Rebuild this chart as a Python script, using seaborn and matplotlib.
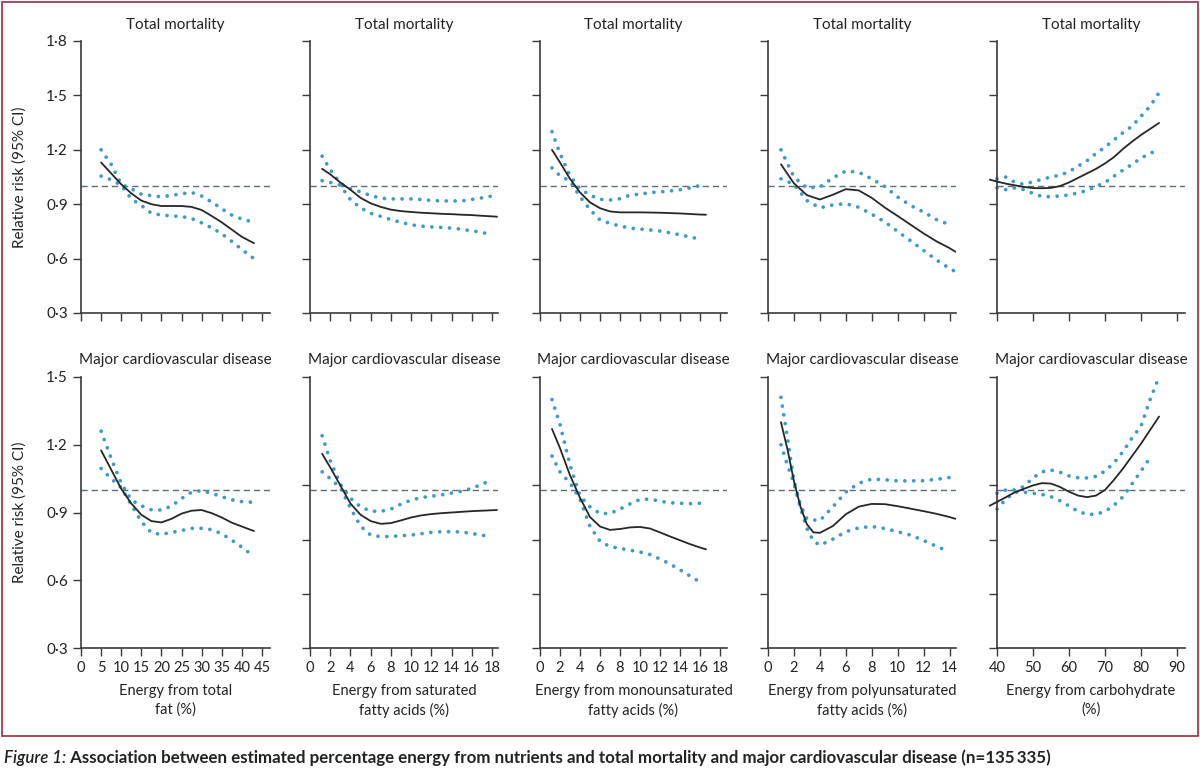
import matplotlib
matplotlib.use('Agg')
import matplotlib.pyplot as plt
from matplotlib.patches import Rectangle
import seaborn as sns
import numpy as np

nan = np.nan

# ---------------- data ----------------
fat_x = [5, 7.5, 10, 12.5, 15, 17.5, 20, 22.5, 25, 27.5, 30, 32.5, 35, 37.5, 40, 43]
fat_mort_mid = [1.13, 1.07, 1.01, 0.96, 0.92, 0.90, 0.89, 0.89, 0.89, 0.885, 0.868, 0.835, 0.80, 0.76, 0.72, 0.685]
fat_mort_hi = [1.20, 1.12, 1.01, 0.985, 0.955, 0.947, 0.941, 0.949, 0.957, 0.965, 0.945, 0.912, 0.875, 0.84, 0.818, 0.80]
fat_mort_lo = [1.055, 1.035, 1.005, 0.93, 0.893, 0.85, 0.84, 0.836, 0.832, 0.821, 0.797, 0.77, 0.737, 0.695, 0.65, 0.60]
fat_cvd_mid = [1.175, 1.09, 1.005, 0.94, 0.89, 0.862, 0.856, 0.872, 0.895, 0.908, 0.911, 0.897, 0.878, 0.855, 0.838, 0.818]
fat_cvd_hi = [1.26, 1.14, 1.03, 0.955, 0.93, 0.912, 0.911, 0.928, 0.962, 0.99, 0.997, 0.985, 0.97, 0.956, 0.948, 0.945]
fat_cvd_lo = [1.095, 1.05, 1.01, 0.934, 0.86, 0.81, 0.803, 0.812, 0.82, 0.83, 0.83, 0.824, 0.806, 0.777, 0.747, 0.705]

sat_x = [1.2, 2, 3, 4, 5, 6, 7, 8, 9, 10, 11, 12, 13, 14, 15, 16, 17, 18, 18.5]
sat_mort_mid = [1.095, 1.065, 1.02, 0.98, 0.935, 0.905, 0.885, 0.87, 0.862, 0.857, 0.853, 0.85, 0.847, 0.845, 0.842, 0.84, 0.836, 0.833, 0.831]
sat_mort_hi = [1.165, 1.09, 1.015, 0.985, 0.968, 0.948, 0.933, 0.929, 0.929, 0.929, 0.926, 0.921, 0.918, 0.918, 0.918, 0.926, 0.935, 0.945, nan]
sat_mort_lo = [1.03, 1.02, 1.005, 0.925, 0.88, 0.85, 0.833, 0.815, 0.80, 0.786, 0.779, 0.775, 0.772, 0.768, 0.762, 0.753, 0.745, 0.73, nan]
sat_cvd_mid = [1.16, 1.10, 1.02, 0.94, 0.89, 0.862, 0.85, 0.853, 0.865, 0.878, 0.887, 0.893, 0.897, 0.90, 0.903, 0.906, 0.908, 0.91, 0.911]
sat_cvd_hi = [1.24, 1.13, 1.025, 0.963, 0.925, 0.906, 0.905, 0.915, 0.937, 0.955, 0.966, 0.972, 0.978, 0.986, 0.994, 1.007, 1.025, 1.044, nan]
sat_cvd_lo = [1.08, 1.05, 1.01, 0.92, 0.84, 0.80, 0.793, 0.794, 0.797, 0.80, 0.806, 0.812, 0.815, 0.815, 0.814, 0.807, 0.80, 0.79, nan]

mufa_x = [1.2, 2, 3, 4, 5, 6, 7, 8, 9, 10, 11, 12, 13, 14, 15, 16, 16.6]
mufa_mort_mid = [1.20, 1.13, 1.04, 0.965, 0.91, 0.878, 0.86, 0.855, 0.855, 0.855, 0.854, 0.853, 0.851, 0.849, 0.846, 0.843, 0.842]
mufa_mort_hi = [1.30, 1.18, 1.056, 0.985, 0.95, 0.927, 0.923, 0.93, 0.95, 0.955, 0.964, 0.968, 0.973, 0.98, 0.99, 1.003, nan]
mufa_mort_lo = [1.10, 1.057, 1.028, 0.941, 0.87, 0.813, 0.794, 0.78, 0.768, 0.763, 0.758, 0.752, 0.742, 0.731, 0.719, 0.708, nan]
mufa_cvd_mid = [1.27, 1.185, 1.065, 0.965, 0.88, 0.838, 0.823, 0.827, 0.834, 0.836, 0.829, 0.812, 0.794, 0.777, 0.76, 0.745, 0.737]
mufa_cvd_hi = [1.40, 1.29, 1.11, 0.973, 0.925, 0.895, 0.896, 0.915, 0.938, 0.958, 0.959, 0.95, 0.943, 0.941, 0.939, 0.941, nan]
mufa_cvd_lo = [1.15, 1.08, 1.03, 0.96, 0.838, 0.773, 0.749, 0.741, 0.733, 0.725, 0.714, 0.694, 0.672, 0.646, 0.619, 0.592, nan]

pufa_mort_x = [1, 2, 3, 4, 5, 6, 7, 8, 9, 10, 11, 12, 13, 14, 14.45]
pufa_mort_mid = [1.12, 1.015, 0.95, 0.926, 0.952, 0.983, 0.976, 0.935, 0.882, 0.835, 0.787, 0.739, 0.695, 0.658, 0.638]
pufa_mort_hi = [1.20, 1.05, 0.99, 0.995, 1.045, 1.083, 1.076, 1.04, 0.998, 0.94, 0.893, 0.857, 0.815, 0.787, nan]
pufa_mort_lo = [1.04, 1.01, 0.92, 0.88, 0.896, 0.903, 0.883, 0.845, 0.803, 0.75, 0.698, 0.645, 0.592, 0.546, 0.528]
pufa_cvd_x = [1, 1.5, 2, 2.5, 3, 3.5, 4, 5, 6, 7, 8, 9, 10, 11, 12, 13, 14, 14.45]
pufa_cvd_mid = [1.30, 1.18, 1.04, 0.926, 0.848, 0.812, 0.81, 0.84, 0.892, 0.926, 0.938, 0.937, 0.928, 0.917, 0.906, 0.894, 0.88, 0.872]
pufa_cvd_hi = [1.41, 1.23, 1.04, 0.935, 0.872, 0.867, 0.864, 0.925, 0.99, 1.03, 1.048, 1.045, 1.04, 1.04, 1.041, 1.047, 1.055, nan]
pufa_cvd_lo = [1.20, 1.11, 1.03, 0.92, 0.83, 0.774, 0.755, 0.782, 0.815, 0.832, 0.838, 0.829, 0.815, 0.80, 0.776, 0.75, 0.726, nan]

carb_x = [38, 40, 42.5, 45, 47.5, 50, 52.5, 55, 57.5, 60, 62.5, 65, 67.5, 70, 72.5, 75, 77.5, 80, 82.5, 85]
carb_mort_mid = [1.035, 1.025, 1.013, 1.004, 0.995, 0.989, 0.988, 0.99, 1.0, 1.02, 1.045, 1.07, 1.095, 1.125, 1.16, 1.205, 1.245, 1.282, 1.315, 1.348]
carb_mort_hi = [nan, 1.04, 1.05, 1.02, 1.01, 1.024, 1.037, 1.05, 1.06, 1.079, 1.11, 1.14, 1.18, 1.215, 1.255, 1.295, 1.33, 1.385, 1.44, 1.515]
carb_mort_lo = [nan, 0.99, 0.98, 0.99, 0.98, 0.96, 0.942, 0.941, 0.945, 0.951, 0.963, 0.975, 0.998, 1.02, 1.055, 1.088, 1.12, 1.154, 1.18, 1.203]
carb_cvd_mid = [0.93, 0.947, 0.968, 0.99, 1.005, 1.02, 1.03, 1.028, 1.013, 0.992, 0.975, 0.968, 0.975, 1.0, 1.045, 1.095, 1.15, 1.205, 1.265, 1.325]
carb_cvd_hi = [nan, 0.985, 1.0, 1.0, 1.015, 1.054, 1.08, 1.088, 1.078, 1.062, 1.054, 1.053, 1.06, 1.083, 1.12, 1.17, 1.23, 1.283, 1.40, 1.50]
carb_cvd_lo = [nan, 0.915, 0.96, 0.99, 0.99, 0.985, 0.98, 0.97, 0.952, 0.929, 0.905, 0.892, 0.892, 0.905, 0.932, 0.97, 1.027, 1.084, 1.143, nan]

# axis ticks and text
fat_ticks = [0, 5, 10, 15, 20, 25, 30, 35, 40, 45]
sat_ticks = [0, 2, 4, 6, 8, 10, 12, 14, 16, 18]
mufa_ticks = [0, 2, 4, 6, 8, 10, 12, 14, 16, 18]
pufa_ticks = [0, 2, 4, 6, 8, 10, 12, 14]
carb_ticks = [40, 50, 60, 70, 80, 90]
x_limits = [(0, 47), (0, 18.6), (0, 18.7), (0, 14.5), (40, 92.2)]

mort_yticks = [0.3, 0.6, 0.9, 1.2, 1.5, 1.8]
mort_ylabels = ['0·3', '0·6', '0·9', '1·2', '1·5', '1·8']
cvd_yticks = [0.3, 0.6, 0.9, 1.2, 1.5]
cvd_ylabels = ['0·3', '0·6', '0·9', '1·2', '1·5']
# the inner lower panels of the original carry the upper-row tick spacing
cvd_inner_yticks = [0.3, 0.54, 0.78, 1.02, 1.5]

row_titles = ['Total mortality', 'Major cardiovascular disease']
x_titles = ['Energy from total\nfat (%)',
            'Energy from saturated\nfatty acids (%)',
            'Energy from monounsaturated\nfatty acids (%)',
            'Energy from polyunsaturated\nfatty acids (%)',
            'Energy from carbohydrate\n(%)']
y_title = 'Relative risk (95% CI)'
caption_lead = 'Figure 1:'
caption_rest = (' Association between estimated percentage energy from nutrients and total '
                'mortality and major cardiovascular disease (n=135\u2009335)')

# ---------------- style ----------------
sns.set_theme(style='ticks')
plt.rcParams['font.family'] = ['Lato', 'DejaVu Sans']

BAND_COLOUR = '#3b9bc3'
LINE_COLOUR = '#262626'
REF_COLOUR = '#5f6e76'
AXIS_COLOUR = '#3a3a3a'
FRAME_COLOUR = '#a23c50'
TEXT_COLOUR = '#222222'

W, H = 1200, 772
fig = plt.figure(figsize=(W / 100, H / 100), dpi=100)
fig.patch.set_facecolor('white')

col_left = [81, 310, 540, 768, 997]
col_width = [189, 188, 187, 188, 188]
row_top = [41, 377]
row_bottom = [313, 648]

panels = [
    [(fat_x, fat_mort_mid, fat_mort_lo, fat_mort_hi),
     (sat_x, sat_mort_mid, sat_mort_lo, sat_mort_hi),
     (mufa_x, mufa_mort_mid, mufa_mort_lo, mufa_mort_hi),
     (pufa_mort_x, pufa_mort_mid, pufa_mort_lo, pufa_mort_hi),
     (carb_x, carb_mort_mid, carb_mort_lo, carb_mort_hi)],
    [(fat_x, fat_cvd_mid, fat_cvd_lo, fat_cvd_hi),
     (sat_x, sat_cvd_mid, sat_cvd_lo, sat_cvd_hi),
     (mufa_x, mufa_cvd_mid, mufa_cvd_lo, mufa_cvd_hi),
     (pufa_cvd_x, pufa_cvd_mid, pufa_cvd_lo, pufa_cvd_hi),
     (carb_x, carb_cvd_mid, carb_cvd_lo, carb_cvd_hi)],
]
x_ticks = [fat_ticks, sat_ticks, mufa_ticks, pufa_ticks, carb_ticks]

for r in range(2):
    for c in range(5):
        x, mid, lo, hi = panels[r][c]
        ax = fig.add_axes([col_left[c] / W, 1 - row_bottom[r] / H,
                           col_width[c] / W, (row_bottom[r] - row_top[r]) / H])
        ax.set_facecolor('white')

        ax.axhline(1.0, color=REF_COLOUR, lw=1.0, ls=(0, (4.5, 2.8)), zorder=1)
        for band in (hi, lo):
            sns.lineplot(x=x, y=band, ax=ax, color=BAND_COLOUR, lw=2.7,
                         linestyle=(0, (0.01, 2.35)), dash_capstyle='round',
                         errorbar=None, clip_on=False, zorder=2)
        sns.lineplot(x=x, y=mid, ax=ax, color=LINE_COLOUR, lw=1.3,
                     errorbar=None, clip_on=False, zorder=3,
                     solid_joinstyle='round')

        ax.set_xlim(x_limits[c])
        ax.set_xticks(x_ticks[c])
        if r == 0:
            ax.set_ylim(0.3, 1.8)
            ax.set_yticks(mort_yticks)
            ylabels = mort_ylabels
        else:
            ax.set_ylim(0.3, 1.5)
            ax.set_yticks(cvd_yticks if c == 0 else cvd_inner_yticks)
            ylabels = cvd_ylabels

        sns.despine(ax=ax)
        for side in ('left', 'bottom'):
            ax.spines[side].set_color(AXIS_COLOUR)
            ax.spines[side].set_linewidth(1.2)
        ax.tick_params(direction='out', length=6, width=1.0, color=AXIS_COLOUR,
                       labelcolor=TEXT_COLOUR)

        if c == 0:
            ax.set_yticklabels(ylabels, fontsize=11)
            ax.set_ylabel(y_title, fontsize=11, color=TEXT_COLOUR)
            ax.yaxis.set_label_coords(-(col_left[0] - 27) / col_width[0], 0.5)
        else:
            ax.set_ylabel('')
            ax.tick_params(axis='y', labelleft=False)

        if r == 1:
            ax.set_xticklabels([str(t) for t in x_ticks[c]], fontsize=10.5)
            ax.set_xlabel(x_titles[c], fontsize=10.5, color=TEXT_COLOUR,
                          linespacing=1.45, labelpad=6)
        else:
            ax.set_xlabel('')
            ax.tick_params(axis='x', labelbottom=False)
        ax.set_title(row_titles[r], fontsize=11, color=TEXT_COLOUR, pad=9)
        ax.grid(False)

fig.patches.append(Rectangle((2 / W, 1 - 736 / H), 1196 / W, 734 / H,
                             transform=fig.transFigure, fill=False,
                             edgecolor=FRAME_COLOUR, lw=1.3))

lead = fig.text(4 / W, 1 - 758 / H, caption_lead, fontsize=12.2, style='italic',
                weight='semibold', color=TEXT_COLOUR, va='center', ha='left')
fig.axes[0].annotate(caption_rest, xy=(1, 0.5), xycoords=lead,
                     va='center', ha='left', fontsize=12.2,
                     weight='bold', color=TEXT_COLOUR,
                     annotation_clip=False)

fig.savefig('out.png', dpi=100)
